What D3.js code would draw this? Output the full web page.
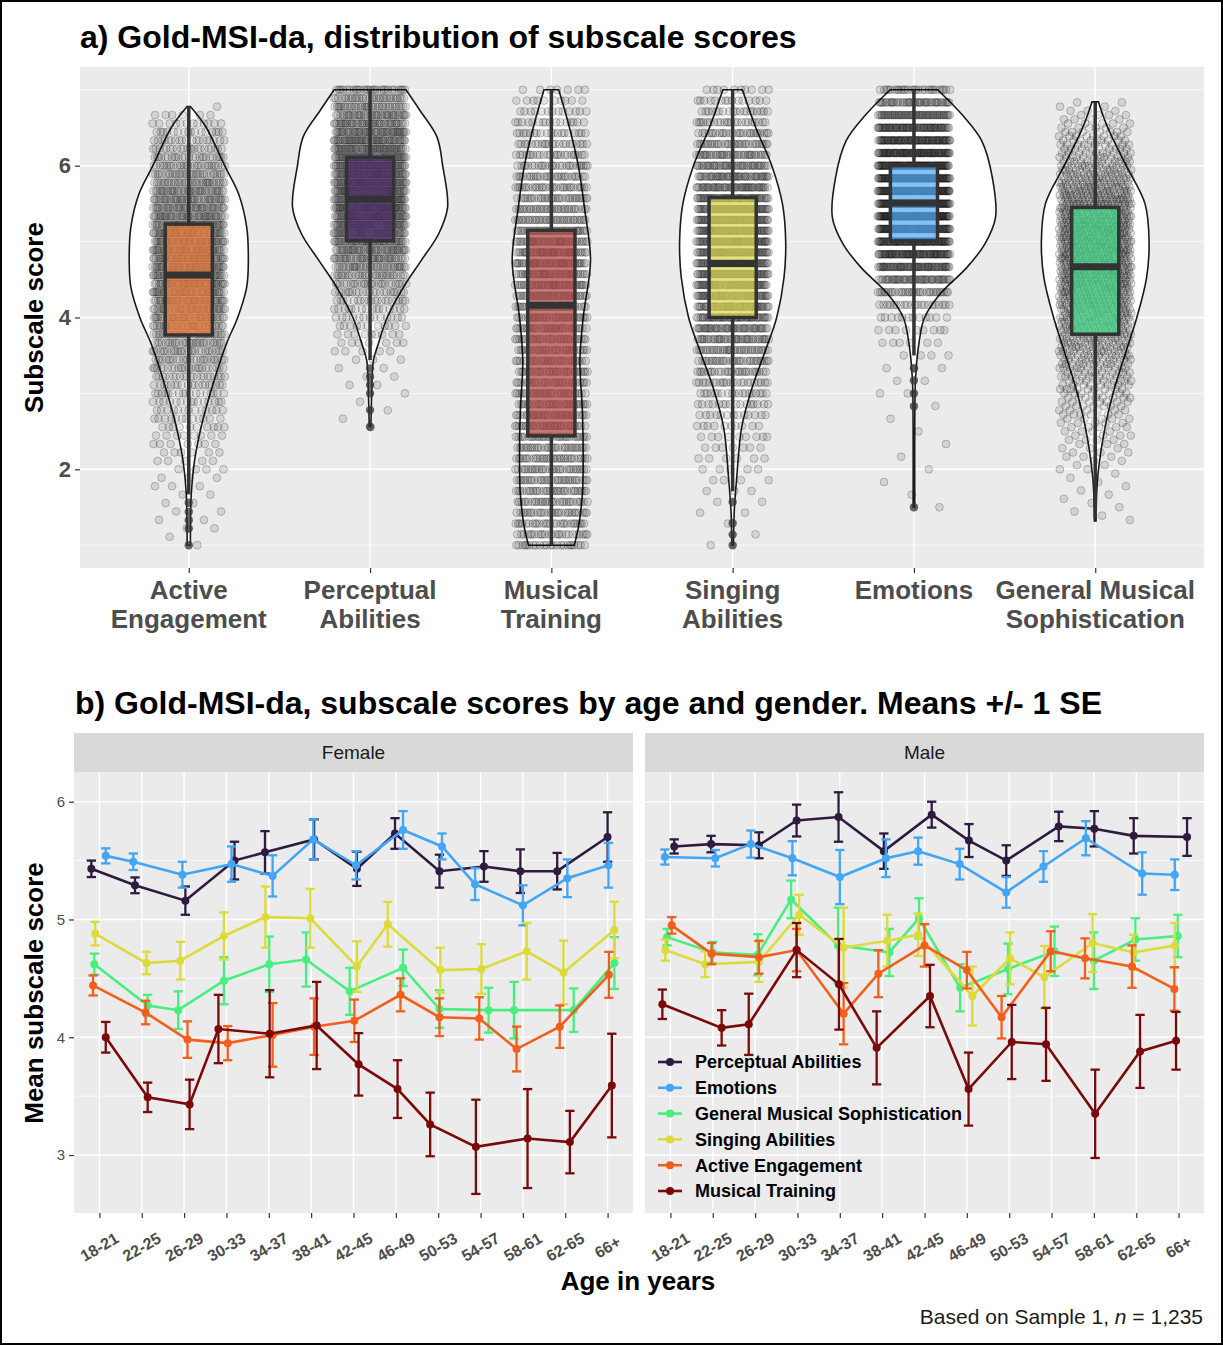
<!DOCTYPE html>
<html>
<head>
<meta charset="utf-8">
<script src="https://cdn.jsdelivr.net/npm/d3@7"></script>
<style>
  body { margin: 0; background: #fff; }
  svg { display: block; font-family: "Liberation Sans", Arial, Helvetica, sans-serif; }
</style>
</head>
<body>
<svg id="chart" width="1223" height="1345"></svg>
<script>
// ---- panel a data ----
const subscales = ['Active Engagement', 'Perceptual Abilities', 'Musical Training', 'Singing Abilities', 'Emotions', 'General Musical Sophistication'];
const subscaleLabels = [['Active', 'Engagement'], ['Perceptual', 'Abilities'], ['Musical', 'Training'], ['Singing', 'Abilities'], ['Emotions'], ['General Musical', 'Sophistication']];
const itemCounts = [9, 9, 7, 7, 6, 18];
const sampleN = 1235;
const boxQ1 = [3.77, 5.01, 2.44, 4.0, 5.01, 3.78];
const boxMedian = [4.56, 5.56, 4.16, 4.71, 5.51, 4.67];
const boxQ3 = [5.23, 6.11, 5.15, 5.58, 6.0, 5.45];
const whiskerLow = [1.67, 3.44, 1.0, 1.71, 3.5, 1.35];
const whiskerHigh = [6.78, 7.0, 7.0, 7.0, 7.0, 6.84];
const outliers = [
    [1.0, 1.22, 1.33, 1.44, 1.56],
    [3.33, 3.22, 3.11, 3.0, 2.78, 2.56],
    [],
    [1.57, 1.29, 1.14, 1.0],
    [3.33, 3.17, 3.0, 2.83, 1.5],
    []
];
// violin outline: score levels and relative density (1 = widest violin)
const violinScores = [
    [1.0, 1.67, 2.11, 2.55, 2.99, 3.65, 4.0, 4.4, 4.75, 5.19, 5.63, 6.0, 6.51, 6.78],
    [2.56, 2.99, 3.43, 3.65, 4.0, 4.4, 4.74, 5.1, 5.45, 6.0, 6.38, 6.73, 7.0],
    [1.0, 1.23, 1.67, 2.11, 2.77, 3.43, 4.0, 4.75, 5.41, 6.0, 6.51, 7.0],
    [1.0, 1.45, 1.89, 2.55, 3.08, 3.56, 4.0, 4.53, 5.01, 5.5, 6.0, 6.51, 7.0],
    [1.5, 2.55, 3.21, 3.65, 4.0, 4.31, 4.66, 4.97, 5.32, 5.85, 6.33, 6.66, 7.0],
    [1.32, 1.89, 2.55, 3.08, 3.56, 4.0, 4.53, 5.01, 5.5, 6.0, 6.51, 6.84]
];
const violinDensity = [
    [0.02, 0.03, 0.07, 0.15, 0.26, 0.46, 0.6, 0.71, 0.73, 0.71, 0.61, 0.44, 0.21, 0.02],
    [0.01, 0.02, 0.04, 0.1, 0.21, 0.41, 0.62, 0.84, 0.95, 0.89, 0.82, 0.61, 0.44],
    [0.28, 0.33, 0.38, 0.39, 0.38, 0.35, 0.39, 0.48, 0.41, 0.33, 0.22, 0.09],
    [0.01, 0.02, 0.05, 0.11, 0.24, 0.4, 0.54, 0.63, 0.65, 0.61, 0.48, 0.28, 0.12],
    [0.01, 0.01, 0.02, 0.06, 0.13, 0.32, 0.65, 0.87, 1.0, 0.96, 0.83, 0.6, 0.29],
    [0.01, 0.03, 0.12, 0.24, 0.38, 0.51, 0.63, 0.66, 0.61, 0.38, 0.15, 0.04]
];
const boxFills = ['#f07a38', '#4a2a66', '#a8403c', '#d9d54e', '#4fa6f2', '#45de8a'];

// ---- panel b data ----
const ageGroups = ['18-21', '22-25', '26-29', '30-33', '34-37', '38-41', '42-45', '46-49', '50-53', '54-57', '58-61', '62-65', '66+'];
const seriesNames = ['Perceptual Abilities', 'Emotions', 'General Musical Sophistication', 'Singing Abilities', 'Active Engagement', 'Musical Training'];
const seriesColors = ['#2f1a40', '#42a5f5', '#46ef7e', '#dcdb3a', '#f25f1c', '#7a0a0a'];

const femaleMeans = [
    [5.43, 5.29, 5.16, 5.50, 5.57, 5.68, 5.43, 5.73, 5.41, 5.45, 5.41, 5.41, 5.70],
    [5.54, 5.49, 5.38, 5.47, 5.37, 5.68, 5.46, 5.76, 5.62, 5.30, 5.12, 5.35, 5.46],
    [4.62, 4.27, 4.23, 4.48, 4.62, 4.66, 4.39, 4.59, 4.24, 4.23, 4.23, 4.23, 4.63],
    [4.88, 4.63, 4.65, 4.86, 5.02, 5.01, 4.60, 4.96, 4.57, 4.58, 4.73, 4.55, 4.91],
    [4.44, 4.21, 3.98, 3.95, 4.02, 4.09, 4.14, 4.36, 4.17, 4.16, 3.90, 4.09, 4.53],
    [4.00, 3.49, 3.43, 4.07, 4.03, 4.10, 3.77, 3.56, 3.26, 3.07, 3.14, 3.11, 3.59]
];
const femaleSE = [
    [0.07, 0.067, 0.12, 0.16, 0.18, 0.17, 0.145, 0.13, 0.14, 0.13, 0.185, 0.155, 0.21],
    [0.064, 0.07, 0.11, 0.15, 0.175, 0.17, 0.12, 0.16, 0.11, 0.135, 0.17, 0.16, 0.19],
    [0.09, 0.09, 0.16, 0.2, 0.235, 0.23, 0.2, 0.155, 0.16, 0.19, 0.24, 0.185, 0.22],
    [0.1, 0.095, 0.16, 0.2, 0.26, 0.25, 0.215, 0.19, 0.19, 0.21, 0.24, 0.27, 0.24],
    [0.085, 0.1, 0.155, 0.145, 0.27, 0.24, 0.18, 0.14, 0.16, 0.18, 0.19, 0.18, 0.195],
    [0.13, 0.125, 0.21, 0.29, 0.37, 0.37, 0.265, 0.245, 0.27, 0.4, 0.42, 0.265, 0.44]
];
const maleMeans = [
    [5.62, 5.64, 5.63, 5.84, 5.87, 5.58, 5.89, 5.67, 5.50, 5.79, 5.77, 5.71, 5.70],
    [5.53, 5.52, 5.64, 5.52, 5.36, 5.52, 5.58, 5.47, 5.23, 5.45, 5.69, 5.39, 5.38],
    [4.85, 4.72, 4.70, 5.17, 4.78, 4.72, 5.01, 4.42, 4.58, 4.73, 4.65, 4.83, 4.86],
    [4.74, 4.62, 4.64, 5.04, 4.76, 4.82, 4.87, 4.35, 4.67, 4.51, 4.80, 4.72, 4.78],
    [4.95, 4.71, 4.68, 4.74, 4.20, 4.54, 4.78, 4.57, 4.17, 4.73, 4.67, 4.60, 4.41],
    [4.28, 4.08, 4.11, 4.74, 4.45, 3.91, 4.35, 3.56, 3.96, 3.94, 3.35, 3.88, 3.97]
];
const maleSE = [
    [0.06, 0.07, 0.11, 0.135, 0.21, 0.15, 0.11, 0.14, 0.13, 0.125, 0.15, 0.15, 0.16],
    [0.064, 0.07, 0.115, 0.145, 0.23, 0.16, 0.115, 0.13, 0.13, 0.13, 0.145, 0.18, 0.13],
    [0.07, 0.09, 0.175, 0.16, 0.32, 0.2, 0.17, 0.2, 0.215, 0.21, 0.24, 0.18, 0.18],
    [0.09, 0.11, 0.17, 0.17, 0.34, 0.22, 0.18, 0.25, 0.22, 0.265, 0.245, 0.15, 0.19],
    [0.07, 0.09, 0.14, 0.18, 0.26, 0.2, 0.18, 0.155, 0.18, 0.17, 0.17, 0.18, 0.185],
    [0.125, 0.15, 0.26, 0.23, 0.385, 0.31, 0.265, 0.31, 0.315, 0.31, 0.375, 0.31, 0.245]
];
// horizontal jitter of each mean, in age-group units
const femaleJitter = [
    [-0.19, -0.16, 0.03, 0.19, -0.09, 0.07, 0.08, -0.02, 0.03, 0.08, -0.06, -0.19, 0],
    [0.15, -0.2, -0.04, 0.12, 0.09, 0.05, 0.06, 0.17, 0.09, -0.13, 0, 0.05, 0.02],
    [-0.12, 0.14, -0.14, -0.06, 0.01, -0.12, -0.09, 0.17, 0.03, 0.19, -0.21, 0.2, 0.16],
    [-0.1, 0.11, -0.09, -0.06, -0.08, -0.02, 0.08, -0.19, 0.05, 0.02, 0.09, -0.04, 0.16],
    [-0.15, 0.09, 0.08, 0.03, 0.09, 0.07, 0.02, 0.11, 0.03, -0.03, -0.15, -0.13, 0.03],
    [0.15, 0.14, 0.13, -0.19, 0.02, 0.13, 0.12, 0.04, -0.19, -0.11, 0.11, 0.11, 0.1]
];
const maleJitter = [
    [0.09, -0.04, 0.09, -0.02, -0.03, 0.04, 0.17, 0.05, -0.07, 0.17, 0.01, -0.06, 0.2],
    [-0.13, 0.06, -0.1, -0.12, 0, 0.09, -0.15, -0.17, -0.07, -0.19, -0.19, 0.14, -0.09],
    [-0.08, 0, 0.06, -0.15, -0.04, 0.17, -0.13, -0.16, -0.03, 0.07, 0, -0.02, -0.02],
    [-0.12, -0.18, 0.09, 0.04, 0.09, 0.12, -0.15, 0.13, 0.02, -0.17, -0.03, -0.06, -0.09],
    [0.03, -0.03, 0.09, -0.02, 0.09, -0.09, 0, 0, -0.18, -0.02, -0.21, -0.1, -0.1],
    [-0.19, 0.21, -0.15, -0.02, -0.02, -0.13, 0.13, 0.04, 0.06, -0.13, 0.03, 0.09, -0.06]
];

const svg = d3.select('#chart');
const grey = '#ebebeb';
const tickText = '#4d4d4d';

svg.append('rect').attr('x', 1).attr('y', 1).attr('width', 1221).attr('height', 1343)
    .attr('fill', '#fff').attr('stroke', '#000').attr('stroke-width', 2);

// ================= panel a =================
const A = {left: 80, right: 1204, top: 67, bottom: 568};
const xa = d3.scalePoint().domain(subscales).range([A.left, A.right]).padding(0.6);
const ya = d3.scaleLinear().domain([0.7, 7.3]).range([A.bottom, A.top]);
const stepA = xa.step();

svg.append('text').attr('x', 80).attr('y', 48).attr('font-size', 32).attr('font-weight', 'bold')
    .text('a) Gold-MSI-da, distribution of subscale scores');

const gA = svg.append('g');
gA.append('rect').attr('x', A.left).attr('y', A.top).attr('width', A.right - A.left).attr('height', A.bottom - A.top).attr('fill', grey);
gA.selectAll('.minor').data([1, 3, 5, 7]).enter().append('line')
    .attr('x1', A.left).attr('x2', A.right).attr('y1', d => ya(d)).attr('y2', d => ya(d))
    .attr('stroke', '#fff').attr('stroke-width', 0.7);
gA.selectAll('.major').data([2, 4, 6]).enter().append('line')
    .attr('x1', A.left).attr('x2', A.right).attr('y1', d => ya(d)).attr('y2', d => ya(d))
    .attr('stroke', '#fff').attr('stroke-width', 1.4);
gA.selectAll('.vgrid').data(subscales).enter().append('line')
    .attr('x1', d => xa(d)).attr('x2', d => xa(d)).attr('y1', A.top).attr('y2', A.bottom)
    .attr('stroke', '#fff').attr('stroke-width', 1.4);

// axes a
const yAxisA = d3.axisLeft(ya).tickValues([2, 4, 6]).tickSize(5).tickPadding(4).tickFormat(d3.format('d'));
svg.append('g').attr('transform', `translate(${A.left},0)`).call(yAxisA)
    .call(g => g.select('.domain').remove())
    .call(g => g.selectAll('line').attr('stroke', '#333').attr('stroke-width', 1.2))
    .call(g => g.selectAll('text').attr('font-size', 22).attr('font-weight', 'bold').attr('fill', tickText).attr('font-family', null));
svg.append('g').attr('transform', `translate(0,${A.bottom})`)
    .call(d3.axisBottom(xa).tickSize(5).tickFormat(''))
    .call(g => g.select('.domain').remove())
    .call(g => g.selectAll('line').attr('stroke', '#333').attr('stroke-width', 1.2));
subscales.forEach((s, i) => {
    const t = svg.append('text').attr('x', xa(s)).attr('text-anchor', 'middle')
        .attr('font-size', 26).attr('font-weight', 'bold').attr('fill', tickText);
    subscaleLabels[i].forEach((line, k) => {
        t.append('tspan').attr('x', xa(s)).attr('y', 599 + k * 29).text(line);
    });
});
svg.append('text').attr('transform', `translate(43,${(A.top + A.bottom) / 2}) rotate(-90)`)
    .attr('text-anchor', 'middle').attr('font-size', 26).attr('font-weight', 'bold').text('Subscale score');

const halfMax = 0.45 * stepA;
const jitterHalf = 0.2 * stepA;
const boxHalf = 0.13 * stepA;
let seed = 0;

subscales.forEach((s, i) => {
    const cx = xa(s);
    const prof = violinScores[i].map((v, j) => ({v: v, d: violinDensity[i][j]}));
    const area = d3.area()
        .curve(d3.curveCatmullRom)
        .y(d => ya(d.v))
        .x0(d => cx - d.d * halfMax)
        .x1(d => cx + d.d * halfMax);
    gA.append('path').attr('d', area(prof))
        .attr('fill', '#fff').attr('stroke', '#1a1a1a').attr('stroke-width', 1.6);

    // jittered raw scores: one row per possible score, row size follows the violin density
    const dens = d3.scaleLinear().domain(violinScores[i]).range(violinDensity[i]).clamp(true);
    const lo = Math.min(whiskerLow[i], ...outliers[i]);
    const hi = whiskerHigh[i];
    const levels = d3.range(Math.round(lo * itemCounts[i]), Math.round(hi * itemCounts[i]) + 1).map(k => k / itemCounts[i]);
    const total = d3.sum(levels, v => dens(v));
    const pts = [];
    levels.forEach(v => {
        const n = Math.max(1, Math.round(dens(v) / total * sampleN));
        for (let j = 0; j < n; j++) {
            seed += 1;
            const u = (seed * 0.6180339887) % 1;
            pts.push({x: cx + (u * 2 - 1) * jitterHalf, v: v});
        }
    });
    gA.append('g').selectAll('circle').data(pts).enter().append('circle')
        .attr('cx', d => d.x).attr('cy', d => ya(d.v)).attr('r', 3.9)
        .attr('fill', 'rgba(0,0,0,0.1)').attr('stroke', 'rgba(0,0,0,0.22)').attr('stroke-width', 1);

    // box (semi-transparent fill over the points), whiskers, median, outliers
    const g = gA.append('g').attr('stroke', '#333');
    g.append('line').attr('x1', cx).attr('x2', cx).attr('y1', ya(whiskerHigh[i])).attr('y2', ya(boxQ3[i])).attr('stroke-width', 3.5);
    g.append('line').attr('x1', cx).attr('x2', cx).attr('y1', ya(boxQ1[i])).attr('y2', ya(whiskerLow[i])).attr('stroke-width', 3.5);
    g.append('rect').attr('x', cx - boxHalf).attr('width', 2 * boxHalf)
        .attr('y', ya(boxQ3[i])).attr('height', ya(boxQ1[i]) - ya(boxQ3[i]))
        .attr('fill', boxFills[i]).attr('fill-opacity', 0.7).attr('stroke-width', 3.5);
    g.append('line').attr('x1', cx - boxHalf).attr('x2', cx + boxHalf)
        .attr('y1', ya(boxMedian[i])).attr('y2', ya(boxMedian[i])).attr('stroke-width', 7);
    g.selectAll('circle').data(outliers[i]).enter().append('circle')
        .attr('cx', cx).attr('cy', d => ya(d)).attr('r', 4.2)
        .attr('fill', 'rgba(51,51,51,0.75)').attr('stroke', 'none');
});

// ================= panel b =================
svg.append('text').attr('x', 75).attr('y', 714).attr('font-size', 32).attr('font-weight', 'bold')
    .text('b) Gold-MSI-da, subscale scores by age and gender. Means +/- 1 SE');

const B = {top: 772, bottom: 1213, stripTop: 733, width: 559};
const panels = [
    {name: 'Female', left: 74, means: femaleMeans, se: femaleSE, jit: femaleJitter},
    {name: 'Male', left: 645, means: maleMeans, se: maleSE, jit: maleJitter}
];
const xb = d3.scaleLinear().domain([-0.6, ageGroups.length - 1 + 0.6]).range([0, B.width]);
const yb = d3.scaleLinear().domain([2.508, 6.252]).range([B.bottom, B.top]);
const stepB = xb(1) - xb(0);

panels.forEach(p => {
    const g = svg.append('g').attr('transform', `translate(${p.left},0)`);
    g.append('rect').attr('x', 0).attr('y', B.stripTop).attr('width', B.width).attr('height', B.top - B.stripTop).attr('fill', '#d9d9d9');
    g.append('text').attr('x', B.width / 2).attr('y', (B.stripTop + B.top) / 2).attr('dy', '0.35em')
        .attr('text-anchor', 'middle').attr('font-size', 19).attr('fill', '#1a1a1a').text(p.name);
    g.append('rect').attr('x', 0).attr('y', B.top).attr('width', B.width).attr('height', B.bottom - B.top).attr('fill', grey);
    g.selectAll('.minor').data([3.5, 4.5, 5.5]).enter().append('line')
        .attr('x1', 0).attr('x2', B.width).attr('y1', d => yb(d)).attr('y2', d => yb(d))
        .attr('stroke', '#fff').attr('stroke-width', 0.7);
    g.selectAll('.major').data([3, 4, 5, 6]).enter().append('line')
        .attr('x1', 0).attr('x2', B.width).attr('y1', d => yb(d)).attr('y2', d => yb(d))
        .attr('stroke', '#fff').attr('stroke-width', 1.4);
    g.selectAll('.vgrid').data(ageGroups).enter().append('line')
        .attr('x1', (d, i) => xb(i)).attr('x2', (d, i) => xb(i)).attr('y1', B.top).attr('y2', B.bottom)
        .attr('stroke', '#fff').attr('stroke-width', 1.4);

    // x axis
    g.append('g').attr('transform', `translate(0,${B.bottom})`)
        .call(d3.axisBottom(xb).tickValues(d3.range(ageGroups.length)).tickSize(5).tickFormat(''))
        .call(a => a.select('.domain').remove())
        .call(a => a.selectAll('line').attr('stroke', '#333').attr('stroke-width', 1.2));
    g.selectAll('.xlab').data(ageGroups).enter().append('text')
        .attr('transform', (d, i) => `translate(${xb(i)},1247) rotate(-30)`)
        .attr('text-anchor', 'middle').attr('dy', '0.35em')
        .attr('font-size', 16).attr('font-weight', 'bold').attr('fill', tickText).text(d => d);

    // series
    seriesNames.forEach((name, s) => {
        const pts = p.means[s].map((m, i) => ({x: xb(i + p.jit[s][i]), m: m, se: p.se[s][i]}));
        const col = seriesColors[s];
        const sg = g.append('g');
        const eb = sg.append('g').attr('stroke', col).attr('stroke-width', 2.3);
        pts.forEach(d => {
            eb.append('line').attr('x1', d.x).attr('x2', d.x).attr('y1', yb(d.m - d.se)).attr('y2', yb(d.m + d.se));
            eb.append('line').attr('x1', d.x - 0.11 * stepB).attr('x2', d.x + 0.11 * stepB).attr('y1', yb(d.m - d.se)).attr('y2', yb(d.m - d.se));
            eb.append('line').attr('x1', d.x - 0.11 * stepB).attr('x2', d.x + 0.11 * stepB).attr('y1', yb(d.m + d.se)).attr('y2', yb(d.m + d.se));
        });
        sg.append('path').attr('d', d3.line().x(d => d.x).y(d => yb(d.m))(pts))
            .attr('fill', 'none').attr('stroke', col).attr('stroke-width', 2.6);
        sg.selectAll('circle').data(pts).enter().append('circle')
            .attr('cx', d => d.x).attr('cy', d => yb(d.m)).attr('r', 4).attr('fill', col);
    });
});

// y axis b
svg.append('g').attr('transform', `translate(${panels[0].left},0)`)
    .call(d3.axisLeft(yb).tickValues([3, 4, 5, 6]).tickSize(5).tickPadding(4).tickFormat(d3.format('d')))
    .call(a => a.select('.domain').remove())
    .call(a => a.selectAll('line').attr('stroke', '#333').attr('stroke-width', 1.2))
    .call(a => a.selectAll('text').attr('font-size', 15).attr('fill', tickText).attr('font-family', null));
svg.append('text').attr('transform', `translate(43,993) rotate(-90)`)
    .attr('text-anchor', 'middle').attr('font-size', 26).attr('font-weight', 'bold').text('Mean subscale score');
svg.append('text').attr('x', 638).attr('y', 1290).attr('text-anchor', 'middle')
    .attr('font-size', 26).attr('font-weight', 'bold').text('Age in years');

// legend inside the male panel
const lg = svg.append('g').attr('transform', 'translate(670,1062)');
seriesNames.forEach((name, s) => {
    const row = lg.append('g').attr('transform', `translate(0,${s * 25.8})`);
    row.append('line').attr('x1', -12).attr('x2', 12).attr('stroke', seriesColors[s]).attr('stroke-width', 2.6);
    row.append('circle').attr('r', 4).attr('fill', seriesColors[s]);
    row.append('text').attr('x', 25).attr('dy', '0.35em').attr('font-size', 18).attr('font-weight', 'bold').text(name);
});

// caption
const cap = svg.append('text').attr('x', 1203).attr('y', 1324).attr('text-anchor', 'end').attr('font-size', 21).attr('fill', '#1a1a1a');
cap.append('tspan').text('Based on Sample 1, ');
cap.append('tspan').attr('font-style', 'italic').text('n');
cap.append('tspan').text(' = 1,235');
</script>
</body>
</html>
